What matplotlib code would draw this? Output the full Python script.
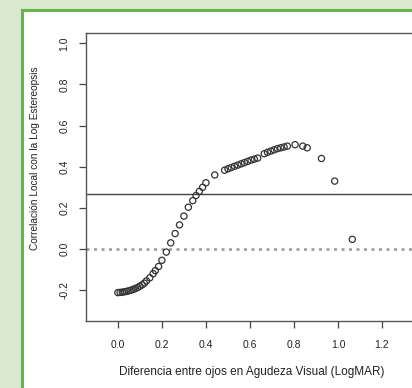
import matplotlib
matplotlib.use("Agg")
import matplotlib.pyplot as plt
from matplotlib.patches import Rectangle

# diferencia de AV entre ojos y correlacion local
dif_av = [0.00, 0.01, 0.02, 0.03, 0.04, 0.05, 0.06, 0.07, 0.08, 0.09, 0.10,
          0.11, 0.12, 0.13, 0.145, 0.16, 0.17, 0.185, 0.20, 0.22, 0.24, 0.26,
          0.28, 0.30, 0.32, 0.34, 0.355, 0.37, 0.385, 0.40, 0.44, 0.485, 0.50,
          0.515, 0.53, 0.545, 0.56, 0.575, 0.59, 0.605, 0.62, 0.635, 0.665,
          0.68, 0.695, 0.71, 0.725, 0.74, 0.755, 0.77, 0.805, 0.84, 0.86,
          0.925, 0.985, 1.065]
corr_local = [-0.212, -0.211, -0.21, -0.208, -0.206, -0.203, -0.2, -0.196,
              -0.192, -0.187, -0.181, -0.174, -0.166, -0.155, -0.14, -0.12,
              -0.105, -0.085, -0.055, -0.015, 0.03, 0.075, 0.117, 0.16, 0.203,
              0.235, 0.26, 0.28, 0.30, 0.322, 0.36, 0.383, 0.39, 0.396, 0.402,
              0.408, 0.414, 0.42, 0.426, 0.432, 0.437, 0.442, 0.463, 0.47,
              0.476, 0.482, 0.488, 0.492, 0.496, 0.50, 0.507, 0.50, 0.492,
              0.44, 0.33, 0.047]
corr_global = 0.267
xticks = [0.0, 0.2, 0.4, 0.6, 0.8, 1.0, 1.2]
yticks = [-0.2, 0.0, 0.2, 0.4, 0.6, 0.8, 1.0]

plt.rcParams['font.family'] = ['Liberation Sans', 'DejaVu Sans']

fig = plt.figure(figsize=(4.12, 3.88), dpi=100)
fig.patch.set_facecolor('#d9e9cf')
# panel blanco con borde verde
fig.patches.append(Rectangle((22 / 412, -0.2), 1.2, (388 - 10) / 388 + 0.2,
                             transform=fig.transFigure, facecolor='white',
                             edgecolor='#6ab44c', linewidth=2.2, zorder=-5))

ax = fig.add_axes([86 / 412, 67 / 388, 351 / 412, 288 / 388])
ax.set_zorder(2)
ax.set_facecolor('none')
ax.scatter(dif_av, corr_local, s=20, facecolors='none', edgecolors='#333333',
           linewidths=0.9, zorder=3)
ax.axhline(corr_global, color='#444444', lw=1.0)
ax.axhline(0, color='#999999', lw=1.8, linestyle=(0, (1.2, 1.8)))

ax.set_xlim(-0.145, 1.45)
ax.set_ylim(-0.35, 1.05)
ax.set_xticks(xticks)
ax.set_yticks(yticks)
ax.set_xticklabels([f'{t:.1f}' for t in xticks])
ax.set_yticklabels([f'{t:.1f}' for t in yticks], rotation=90, va='center')
ax.tick_params(colors='#444444', labelcolor='#222222', labelsize=7.5,
               length=4.8, width=0.9)
ax.tick_params(axis='x', pad=8.8)
ax.tick_params(axis='y', pad=7)
for side in ['left', 'top', 'bottom']:
    ax.spines[side].set_color('#555555')
    ax.spines[side].set_linewidth(1.0)
ax.spines['right'].set_visible(False)

ax.set_xlabel('Diferencia entre ojos en Agudeza Visual (LogMAR)', fontsize=8.5,
              color='#222222', va='center')
ax.set_ylabel('Correlación Local con la Log Estereopsis', fontsize=7.3,
              color='#222222', va='center')
ax.xaxis.set_label_coords(0.4715, -0.177)
ax.yaxis.set_label_coords(-0.145, 0.566)

fig.savefig('out.png', dpi=100)
